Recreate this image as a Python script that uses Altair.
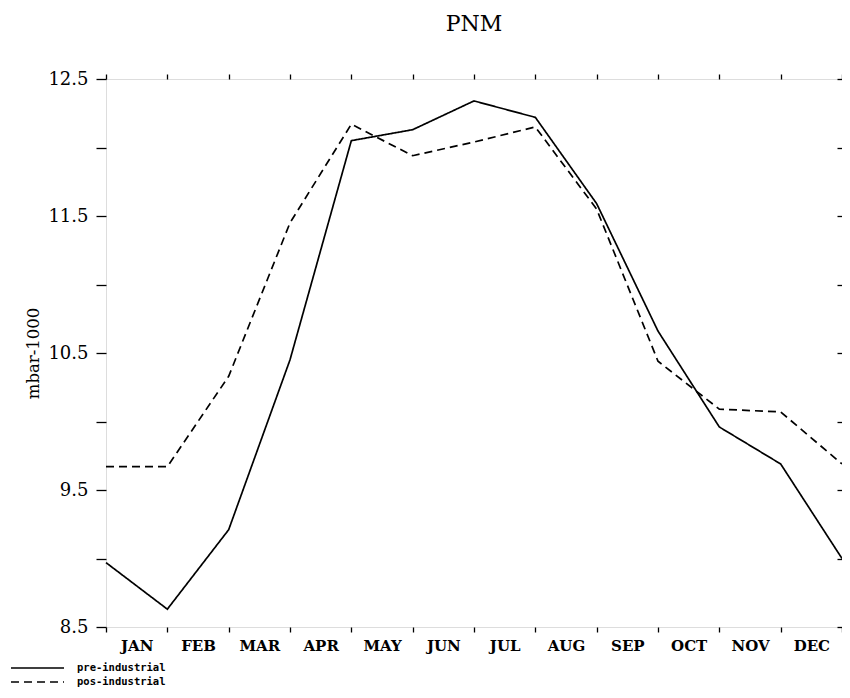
import json
import altair as alt
import pandas as pd

# ---- data ----
months = ["JAN", "FEB", "MAR", "APR", "MAY", "JUN", "JUL", "AUG", "SEP", "OCT", "NOV", "DEC"]
positions = [0, 1, 2, 3, 4, 5, 6, 7, 8, 9, 10, 11, 12]
pre_industrial = [8.97, 8.63, 9.21, 10.45, 12.05, 12.13, 12.34, 12.22, 11.59, 10.66, 9.96, 9.69, 9.00]
pos_industrial = [9.67, 9.67, 10.33, 11.45, 12.17, 11.94, 12.04, 12.15, 11.55, 10.44, 10.09, 10.07, 9.69]
series_names = ["pre-industrial", "pos-industrial"]
y_ticks = [8.5, 9.0, 9.5, 10.0, 10.5, 11.0, 11.5, 12.0, 12.5]

rows = []
for name, vals in zip(series_names, [pre_industrial, pos_industrial]):
    for t, v in zip(positions, vals):
        rows.append({"t": t, "v": v, "series": name})
df = pd.DataFrame(rows)

W, H = 736, 548
half_step = W / 12 / 2

label_expr = f"datum.value < 12 ? {json.dumps(months)}[datum.value] : ''"
y_label_expr = "(datum.value * 2) % 2 == 1 ? format(datum.value, '.1f') : ''"

x_scale = alt.Scale(domain=[0, 12], nice=False, zero=False)
y_scale = alt.Scale(domain=[8.5, 12.5], nice=False, zero=False)

# long horizontal legend stroke drawn with a small symbol size (keeps rows tight)
legend_stroke = "M-5.3,0H5.3"

lines = alt.Chart(df).mark_line(color="black", strokeWidth=1.7).encode(
    x=alt.X(
        "t:Q", scale=x_scale,
        axis=alt.Axis(
            orient="bottom", values=positions, labelExpr=label_expr, labelOffset=half_step,
            tickSize=5, tickColor="black", tickWidth=1.3, domain=False, grid=False,
            labelFont="DejaVu Serif", labelFontWeight="bold", labelFontSize=15, labelColor="black",
            labelPadding=6, labelOverlap=False, labelBound=False, labelFlush=False, title=None,
        ),
    ),
    y=alt.Y(
        "v:Q", scale=y_scale,
        axis=alt.Axis(
            orient="left", values=y_ticks, labelExpr=y_label_expr,
            tickSize=10, tickColor="black", tickWidth=1.3, domain=False, grid=False,
            labelFont="DejaVu Serif", labelFontSize=18, labelColor="black", labelPadding=8,
            labelOverlap=False, labelBound=False,
            title="mbar-1000", titleFont="DejaVu Serif", titleFontSize=16.5, titleFontWeight="normal",
            titleColor="black", titleAngle=-90, titleX=-73, titleY=H / 2,
            titleAlign="center", titleBaseline="middle",
        ),
    ),
    strokeDash=alt.StrokeDash(
        "series:N",
        scale=alt.Scale(domain=series_names, range=[[1, 0], [8, 5]]),
        legend=alt.Legend(
            title=None, orient="none", legendX=-74.5, legendY=583,
            symbolType=legend_stroke, symbolSize=100, symbolStrokeColor="black",
            symbolStrokeWidth=1.3, symbolFillColor="transparent",
            labelFont="DejaVu Sans Mono", labelFontWeight="bold", labelFontSize=10.5,
            labelColor="black", labelOffset=33.5, rowPadding=2, padding=0,
        ),
    ),
)

frame_axes = alt.Chart(df).mark_line(opacity=0).encode(
    x=alt.X(
        "t:Q", scale=x_scale,
        axis=alt.Axis(orient="top", values=positions, labels=False, tickSize=5,
                      tickColor="black", tickWidth=1.3, domain=False, grid=False, title=None),
    ),
    y=alt.Y(
        "v:Q", scale=y_scale,
        axis=alt.Axis(orient="right", values=y_ticks, labels=False, tickSize=5, offset=-5,
                      tickColor="black", tickWidth=1.3, domain=False, grid=False, title=None),
    ),
    detail="series:N",
)

chart = (
    alt.layer(lines, frame_axes)
    .resolve_axis(x="independent", y="independent")
    .properties(
        width=W, height=H,
        autosize=alt.AutoSizeParams(type="none"),
        padding={"left": 98, "top": 71, "right": 0, "bottom": 63},
        title=alt.TitleParams(
            "PNM", font="DejaVu Serif", fontSize=22, fontWeight="normal", color="black",
            anchor="middle", frame="group", offset=34,
        ),
    )
    .configure_view(stroke="black", strokeWidth=1.7)
    .configure(background="white")
)

chart.save("out.html", embed_options={"renderer": "svg", "actions": False})
